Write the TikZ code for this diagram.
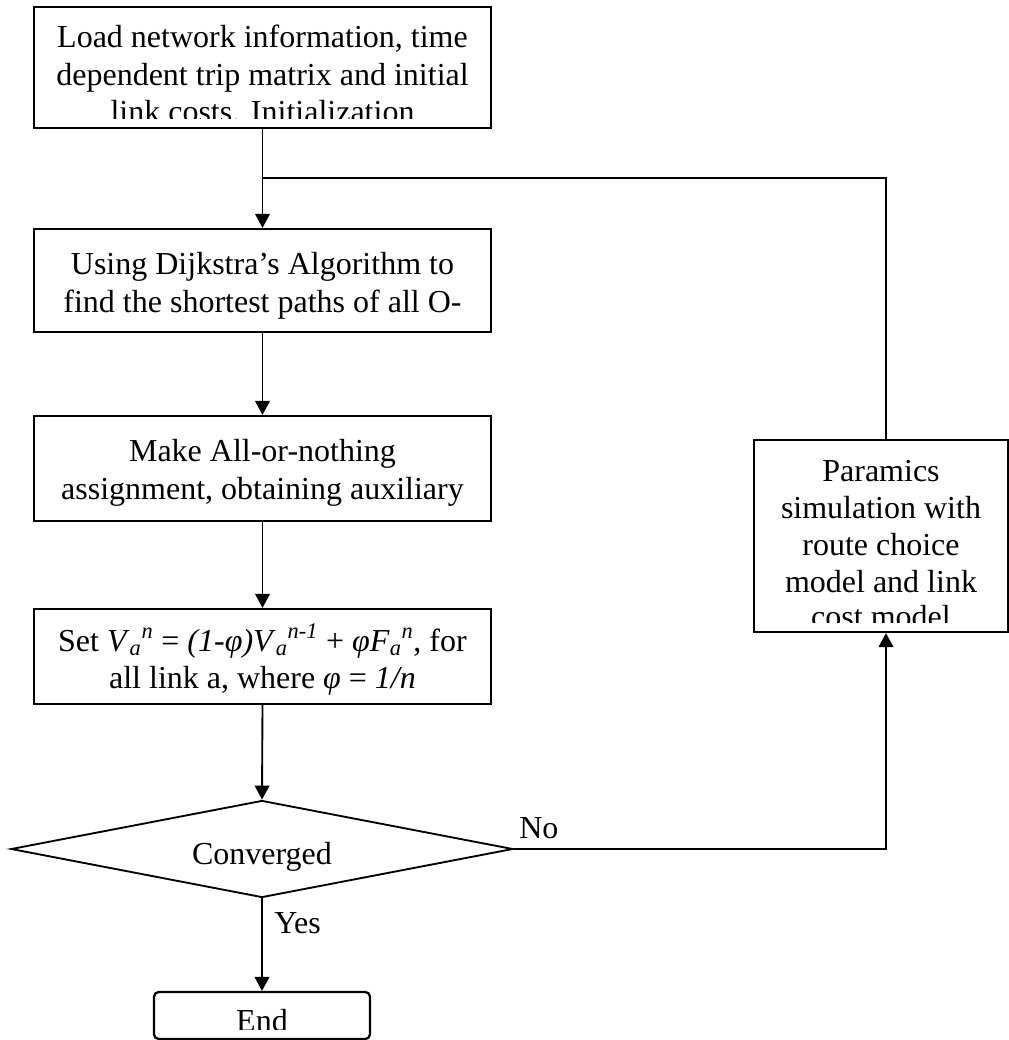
\documentclass[tikz,border=0pt]{standalone}
\usepackage{fontspec}
\setmainfont{Liberation Serif}
\usetikzlibrary{arrows.meta,shapes.geometric}
\begin{document}
\begin{tikzpicture}[x=0.75pt,y=-0.75pt,
  box/.style={draw, line width=1.7pt, rectangle, inner sep=0pt},
  rbox/.style={box, rounded corners=3.5pt},
  dia/.style={draw, diamond, line width=1.4pt, inner sep=0pt, aspect=5.2},
  txt/.style={anchor=base, inner sep=0pt, font=\fontsize{24}{27.75}\selectfont},
  lbl/.style={anchor=base west, inner sep=0pt, font=\fontsize{24}{27.75}\selectfont},
  conn/.style={line width=1.4pt},
  arr/.style={conn, -{Triangle[length=10.5pt,width=11pt]}}]
\useasboundingbox (0,0) rectangle (1009,1040);

% boxes
\node[box, minimum width=457*0.75pt, minimum height=121*0.75pt] (b1) at (262.5,67.5) {};
\node[box, minimum width=457*0.75pt, minimum height=103*0.75pt] (b2) at (262.5,280.5) {};
\node[box, minimum width=457*0.75pt, minimum height=105*0.75pt] (b3) at (262.5,468.5) {};
\node[box, minimum width=457*0.75pt, minimum height=95*0.75pt] (b4) at (262.5,656.5) {};
\node[dia, minimum width=502*0.75pt, minimum height=97*0.75pt] (d) at (262,849) {};
\node[rbox, minimum width=216*0.75pt, minimum height=47*0.75pt] (e) at (262,1015.5) {};
\node[box, minimum width=254*0.75pt, minimum height=192*0.75pt] (p) at (881,536) {};

% texts (clipped as in the reference)
\begin{scope}
  \clip (b1.north west) rectangle ([yshift=7.9pt]b1.south east);
  \node[txt] (t1a) at (262.5,47) {Load network information, time};
  \node[txt] (t1b) at (262.5,85) {dependent trip matrix and initial};
  \node[txt] (t1c) at (262.5,122) {link costs. Initialization};
\end{scope}
\node[txt] (t2a) at (262.5,274) {Using Dijkstra’s Algorithm to};
\node[txt] (t2b) at (262.5,312) {find the shortest paths of all O-};
\node[txt] (t3a) at (262.5,461) {Make All-or-nothing};
\node[txt] (t3b) at (262.5,499) {assignment, obtaining auxiliary};
\node[txt] (t4a) at (262.5,651) {Set \textit{V}\textsubscript{\textit{a}}\textsuperscript{\textit{n}} = \textit{(1-φ)V}\textsubscript{\textit{a}}\textsuperscript{\textit{n-1}} + \textit{φF}\textsubscript{\textit{a}}\textsuperscript{\textit{n}}, for};
\node[txt] (t4b) at (262.5,688) {all link a, where \textit{φ} = \textit{1/n}};
\node[txt] (td) at (262,864) {Converged};
\begin{scope}
  \clip (e.north west) rectangle ([yshift=8.2pt]e.south east);
  \node[txt] (te) at (262,1031) {End};
\end{scope}
\begin{scope}
  \clip (p.north west) rectangle ([yshift=7.9pt]p.south east);
  \node[txt] (tpa) at (881,481) {Paramics};
  \node[txt] (tpb) at (881,518) {simulation with};
  \node[txt] (tpc) at (881,555) {route choice};
  \node[txt] (tpd) at (881,592) {model and link};
  \node[txt] (tpe) at (881,627) {cost model};
\end{scope}

% labels
\node[lbl] (yes) at (274,933) {Yes};
\node[lbl] (no) at (519,838) {No};

% connectors
\coordinate (j) at (262.5,178);
\draw[arr] (b1.south) -- (b2.north);
\draw[conn] ([xshift=3.75pt]p.north) |- (j);
\draw[arr] (b2.south) -- (b3.north);
\draw[arr] (b3.south) -- (b4.north);
\draw[arr] (b4.south) -- (d.north);
\draw[arr] (d.south) -- (e.north);
\draw[arr] (d.east) -| ([xshift=3.75pt]p.south);
\end{tikzpicture}
\end{document}
